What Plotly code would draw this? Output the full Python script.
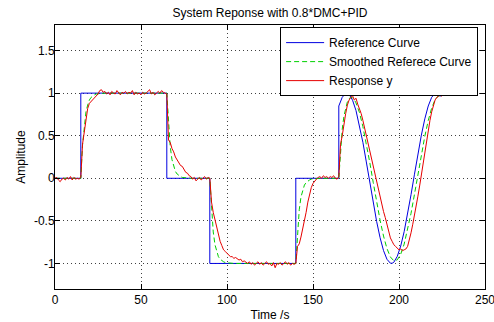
import plotly.graph_objects as go

# ---------------- data ----------------
# Reference curve (blue): steps then a cosine-shaped segment
blue_time = [0, 15, 15, 65, 65, 90, 90, 140, 140, 165,
             165, 167, 169, 170, 171, 173, 175, 177, 179, 181,
             183, 185, 187, 189, 191, 193, 195, 196, 197, 199,
             201, 203, 205, 207, 209, 211, 213, 215, 217, 219,
             221, 222, 223, 224]
blue_value = [0, 0, 1, 1, 0, 0, -1, -1, 0, 0,
              0.849, 0.951, 0.997, 0.999, 0.986, 0.917, 0.795, 0.626, 0.423, 0.192,
              -0.048, -0.286, -0.507, -0.698, -0.849, -0.951, -0.997, -0.998, -0.986, -0.917,
              -0.795, -0.626, -0.423, -0.192, 0.048, 0.286, 0.507, 0.698, 0.849, 0.951,
              0.997, 0.999, 0.986, 0.958]

# Smoothed reference curve (green, dashed)
green_time = [0, 15, 16, 17, 18, 19, 20, 21, 22, 23, 24, 25, 27, 29,
              65, 66, 67, 68, 69, 70, 71, 72, 73, 74, 75, 77, 79,
              90, 91, 92, 93, 94, 95, 96, 97, 98, 99, 100, 102, 104,
              140, 141, 142, 143, 144, 145, 146, 147, 148, 149, 150, 152, 154,
              165, 166, 167, 168, 169, 170, 171, 172, 173, 174, 175,
              177, 179, 181, 183, 185, 187, 189, 191, 193, 195,
              197, 199, 201, 203, 205, 207, 209, 211, 213, 215,
              217, 219, 221, 223, 224]
green_value = [0, 0, 0.39, 0.63, 0.78, 0.86, 0.92, 0.95, 0.97, 0.98, 0.99, 0.993, 0.998, 1.0,
               1.0, 0.61, 0.37, 0.22, 0.14, 0.08, 0.05, 0.03, 0.02, 0.01, 0.007, 0.002, 0.0,
               0.0, -0.39, -0.63, -0.78, -0.86, -0.92, -0.95, -0.97, -0.98, -0.99, -0.993, -0.998, -1.0,
               -1.0, -0.61, -0.37, -0.22, -0.14, -0.08, -0.05, -0.03, -0.02, -0.01, -0.007, -0.002, 0.0,
               0.0, 0.347, 0.577, 0.732, 0.834, 0.899, 0.936, 0.950, 0.945, 0.923, 0.885,
               0.773, 0.608, 0.411, 0.187, -0.047, -0.278, -0.493, -0.678, -0.825, -0.924,
               -0.969, -0.958, -0.891, -0.773, -0.608, -0.411, -0.187, 0.047, 0.278, 0.493,
               0.678, 0.825, 0.924, 0.969, 0.971]

# Response y (red), sampled every second from t = 0 to 225
red_value = [
    0.00, 0.01, -0.02, -0.04, -0.01, 0.00, -0.02, 0.01, -0.01, 0.02,      # 0-9
    -0.02, 0.01, -0.01, 0.00, -0.01, 0.01, 0.40, 0.55, 0.71, 0.82,       # 10-19
    0.88, 0.90, 0.93, 0.95, 0.97, 0.99, 1.03, 1.04, 1.01, 1.02,          # 20-29
    0.99, 1.01, 0.98, 1.02, 1.00, 0.99, 1.03, 1.00, 0.98, 1.01,          # 30-39
    1.00, 1.02, 0.99, 1.01, 1.00, 1.03, 0.98, 1.01, 0.99, 1.00,          # 40-49
    0.98, 1.01, 0.99, 1.00, 1.02, 1.04, 0.99, 1.01, 0.98, 1.00,          # 50-59
    1.02, 1.00, 1.03, 1.01, 1.00, 0.99, 0.45, 0.42, 0.35, 0.31,          # 60-69
    0.25, 0.22, 0.19, 0.15, 0.14, 0.10, 0.07, 0.06, 0.03, 0.02,          # 70-79
    -0.01, 0.01, -0.03, -0.01, 0.01, -0.02, 0.00, 0.02, -0.01, 0.01,     # 80-89
    0.00, -0.28, -0.40, -0.49, -0.58, -0.67, -0.74, -0.79, -0.84, -0.86, # 90-99
    -0.88, -0.90, -0.92, -0.92, -0.94, -0.93, -0.95, -0.96, -0.95, -0.98, # 100-109
    -0.97, -0.99, -1.00, -0.98, -1.01, -0.99, -1.02, -1.00, -0.98, -1.01, # 110-119
    -0.99, -1.02, -1.00, -0.98, -1.01, -1.00, -1.03, -0.99, -1.05, -1.00, # 120-129
    -1.01, -0.99, -1.02, -1.00, -0.98, -1.01, -0.99, -1.02, -1.00, -1.01, # 130-139
    -1.00, -0.80, -0.77, -0.69, -0.60, -0.53, -0.40, -0.28, -0.18, -0.11, # 140-149
    -0.06, -0.03, -0.01, 0.01, 0.02, 0.00, 0.03, 0.01, 0.02, 0.00,       # 150-159
    0.02, 0.01, 0.03, 0.00, -0.01, 0.02, 0.40, 0.50, 0.66, 0.76,         # 160-169
    0.86, 0.92, 0.95, 0.97, 0.92, 0.94, 0.87, 0.82, 0.76, 0.68,          # 170-179
    0.59, 0.52, 0.43, 0.34, 0.24, 0.13, 0.03, -0.06, -0.14, -0.23,       # 180-189
    -0.31, -0.39, -0.46, -0.54, -0.63, -0.70, -0.74, -0.78, -0.80, -0.82, # 190-199
    -0.84, -0.83, -0.85, -0.84, -0.83, -0.80, -0.73, -0.64, -0.54, -0.44, # 200-209
    -0.33, -0.21, -0.09, 0.04, 0.17, 0.31, 0.45, 0.57, 0.68, 0.78,       # 210-219
    0.86, 0.92, 0.95, 0.97, 0.98, 0.96,                                  # 220-225
]
red_time = list(range(len(red_value)))

series_names = ["Reference Curve", "Smoothed Referece Curve", "Response y"]

x_ticks = [0, 50, 100, 150, 200, 250]
x_tick_labels = ["0", "50", "100", "150", "200", "250"]
y_ticks = [-1, -0.5, 0, 0.5, 1, 1.5]
y_tick_labels = ["-1", "-0.5", "0", "0.5", "1", "1.5"]

# ---------------- figure ----------------
FONT = "Liberation Sans, Arial, Helvetica, sans-serif"

fig = go.Figure()
fig.add_trace(go.Scatter(x=blue_time, y=blue_value, mode="lines", name=series_names[0],
                         line=dict(color="#0000e0", width=1)))
fig.add_trace(go.Scatter(x=green_time, y=green_value, mode="lines", name=series_names[1],
                         line=dict(color="#00d000", width=1, dash="5px,3px")))
fig.add_trace(go.Scatter(x=red_time, y=red_value, mode="lines", name=series_names[2],
                         line=dict(color="#e60000", width=1)))

axis_common = dict(
    showline=True, linecolor="black", linewidth=1, mirror="ticks",
    ticks="inside", ticklen=5, tickcolor="black", tickwidth=1,
    showgrid=True, gridcolor="rgba(0,0,0,0.75)", gridwidth=1, griddash="1px,3px",
    zeroline=False, tickfont=dict(family=FONT, size=12, color="black"),
    automargin=False, ticklabeloverflow="allow",
)

fig.update_layout(
    width=494, height=322,
    margin=dict(l=55, r=9, t=25, b=33, pad=0, autoexpand=False),
    paper_bgcolor="white", plot_bgcolor="white",
    font=dict(family=FONT, size=12, color="black"),
    title=dict(text="System Reponse with 0.8*DMC+PID", x=0.5, xref="paper",
               y=1 - 13 / 322, yref="container", xanchor="center", yanchor="middle",
               font=dict(family=FONT, size=12, color="black")),
    xaxis=dict(range=[0, 250], tickvals=x_ticks, ticktext=x_tick_labels,
               title=dict(text="Time /s", standoff=4, font=dict(family=FONT, size=12)),
               **axis_common),
    yaxis=dict(range=[-1.3, 1.8], tickvals=y_ticks, ticktext=y_tick_labels,
               ticklabelstandoff=-3,
               title=dict(text="Amplitude", standoff=5, font=dict(family=FONT, size=12)),
               **axis_common),
    legend=dict(x=0.984, y=0.992, xanchor="right", yanchor="top",
                bgcolor="white", bordercolor="black", borderwidth=1,
                font=dict(family=FONT, size=12, color="black"),
                tracegroupgap=0, itemwidth=38),
    showlegend=True,
)

fig.write_html("out.html",
               config={"displayModeBar": False, "staticPlot": True},
               post_script="document.body.style.margin='0';document.body.style.padding='0';")
